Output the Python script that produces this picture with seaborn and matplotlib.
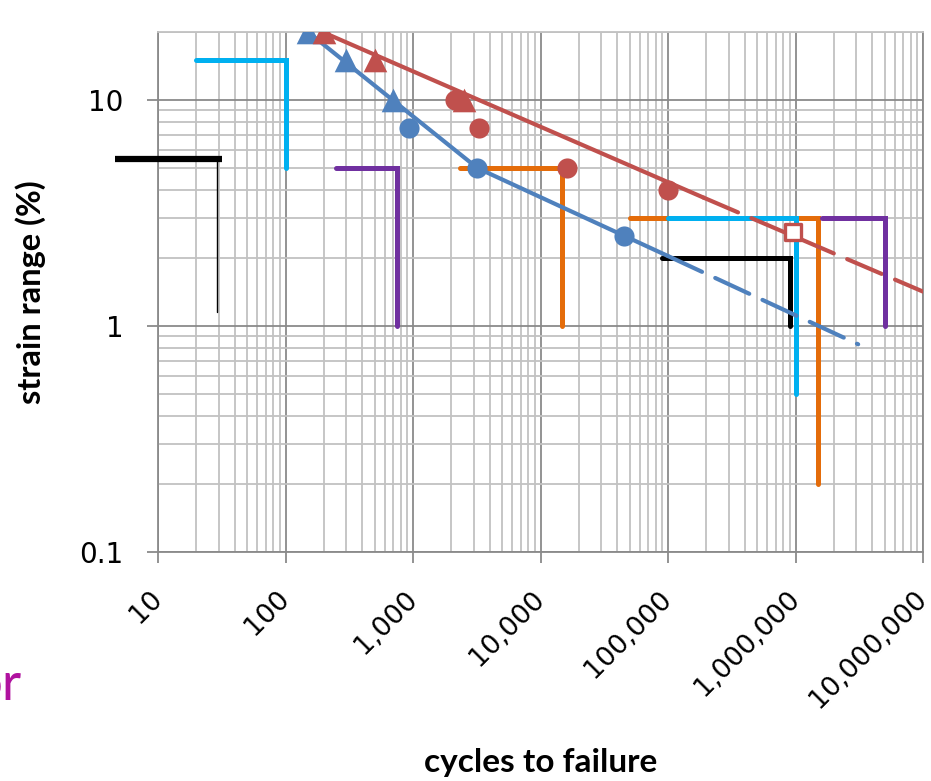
import matplotlib
matplotlib.use("Agg")
import matplotlib.pyplot as plt
import matplotlib.ticker as mticker
import numpy as np
import pandas as pd
import seaborn as sns

# ---- data -------------------------------------------------------------
# test results, blue family
blue_tri_n = [150, 300, 700]
blue_tri_s = [20, 15, 10]
blue_dot_n = [930, 3200, 45000]
blue_dot_s = [7.5, 5, 2.5]

# test results, red family
red_tri_n = [200, 500, 2500]
red_tri_s = [20, 15, 10]
red_dot_n = [2150, 3300, 16000, 100000]
red_dot_s = [10, 7.5, 5, 4]
red_open_n = [950000]
red_open_s = [2.6]

# fitted curves (solid part measured, dashed part extrapolated)
blue_fit_n = [150, 3200, 100000]
blue_fit_s = [20, 5, 2.04]
blue_ext_n = [100000, 3100000]
blue_ext_s = [2.04, 0.83]
red_fit_n = [195, 190000]
red_fit_s = [20, 3.7]
red_ext_n = [190000, 10000000]
red_ext_s = [3.7, 1.42]

# design envelopes (strain level held, then cycle limit)
black_a_n = [4.6, 32]
black_a_s = [5.5, 5.5]
black_b_n = [29, 29]
black_b_s = [5.5, 1.15]
cyan_a_n = [20, 100, 100]
cyan_a_s = [15, 15, 5]
purple_a_n = [250, 750, 750]
purple_a_s = [5, 5, 1]
orange_a_n = [2350, 14700, 14700]
orange_a_s = [5, 5, 1]
orange_b_n = [50000, 1500000, 1500000]
orange_b_s = [3, 3, 0.2]
cyan_b_n = [100000, 1000000, 1000000]
cyan_b_s = [3, 3, 0.5]
black_c_n = [90000, 906000, 906000]
black_c_s = [2, 2, 1]
purple_b_n = [1600000, 5000000, 5000000]
purple_b_s = [3, 3, 1]

x_ticks = [10, 100, 1000, 10000, 100000, 1000000, 10000000]
y_ticks = [0.1, 1, 10]
y_tick_labels = ["0.1", "1", "10"]

BLUE = "#4F81BD"
RED = "#C0504D"
CYAN = "#00B0F0"
PURPLE = "#7030A0"
ORANGE = "#E46C0A"
MAJOR = "#8a8a8a"
MINOR = "#c2c2c2"

sns.set_theme(style="white")
plt.rcParams["font.family"] = ["DejaVu Sans"]
plt.rcParams["text.color"] = "black"
plt.rcParams["axes.labelcolor"] = "black"

fig = plt.figure(figsize=(9.31, 7.81), dpi=100)
ax = fig.add_axes([158 / 931, 1 - 552 / 781, 765 / 931, 520 / 781])
ax.set_xscale("log")
ax.set_yscale("log")
ax.set_xlim(10, 1e7)
ax.set_ylim(0.1, 20)


def path(n, s, color, lw, z, ls="-", clip=True):
    df = pd.DataFrame({"n": n, "s": s})
    sns.lineplot(data=df, x="n", y="s", ax=ax, sort=False, estimator=None,
                 color=color, linewidth=lw, linestyle=ls, zorder=z,
                 solid_capstyle="round", dash_capstyle="round",
                 solid_joinstyle="miter")
    ln = ax.lines[-1]
    ln.set_clip_on(clip)
    if ls == "--":
        ln.set_dashes((9, 3.5))
    return ln


# envelopes
l = path(black_a_n, black_a_s, "black", 4.5, 3, clip=False)
l.set_solid_capstyle("butt")
path(black_b_n, black_b_s, "black", 1.0, 3)
path(cyan_a_n, cyan_a_s, CYAN, 3.6, 3)
path(purple_a_n, purple_a_s, PURPLE, 3.6, 3)
path(orange_a_n, orange_a_s, ORANGE, 3.6, 3)
path(orange_b_n, orange_b_s, ORANGE, 3.6, 3)
path(cyan_b_n, cyan_b_s, CYAN, 3.6, 3.1)
path(black_c_n, black_c_s, "black", 3.6, 3.2)

# fitted curves
path(blue_fit_n, blue_fit_s, BLUE, 3.0, 4)
path(blue_ext_n, blue_ext_s, BLUE, 3.0, 4, ls="--")
path(red_fit_n, red_fit_s, RED, 3.0, 4)
path(red_ext_n, red_ext_s, RED, 3.0, 4, ls="--")

# envelope drawn over the curves
path(purple_b_n, purple_b_s, PURPLE, 3.6, 5)

# markers
sns.scatterplot(x=blue_tri_n, y=blue_tri_s, ax=ax, marker="^", s=17 ** 2,
                color=BLUE, linewidth=0, zorder=6)
sns.scatterplot(x=blue_dot_n, y=blue_dot_s, ax=ax, marker="o", s=14.5 ** 2,
                color=BLUE, linewidth=0, zorder=6)
sns.scatterplot(x=red_tri_n, y=red_tri_s, ax=ax, marker="^", s=17 ** 2,
                color=RED, linewidth=0, zorder=6)
sns.scatterplot(x=red_dot_n, y=red_dot_s, ax=ax, marker="o", s=14.5 ** 2,
                color=RED, linewidth=0, zorder=6)
sns.scatterplot(x=red_open_n, y=red_open_s, ax=ax, marker="s", s=11.5 ** 2,
                facecolor="white", edgecolor=RED, linewidth=2.4, zorder=7)

# grid
ax.xaxis.set_major_locator(mticker.FixedLocator(x_ticks))
ax.yaxis.set_major_locator(mticker.FixedLocator(y_ticks))
ax.xaxis.set_minor_locator(mticker.LogLocator(base=10, subs=np.arange(2, 10)))
ax.yaxis.set_minor_locator(mticker.LogLocator(base=10, subs=np.arange(2, 10)))
ax.xaxis.set_minor_formatter(mticker.NullFormatter())
ax.yaxis.set_minor_formatter(mticker.NullFormatter())
ax.grid(which="minor", color=MINOR, linewidth=1.3, zorder=0)
ax.grid(which="major", color=MAJOR, linewidth=1.3, zorder=0.5)
ax.set_axisbelow(True)

ax.set_xticks(x_ticks)
ax.set_xticklabels([f"{v:,}" for v in x_ticks], rotation=45, ha="right",
                   va="center", rotation_mode="anchor", fontsize=19.5)
ax.set_yticks(y_ticks)
ax.set_yticklabels(y_tick_labels, fontsize=20)
ax.tick_params(axis="both", which="major", direction="out", length=8,
               width=1.3, color=MAJOR, labelcolor="black",
               left=True, bottom=True)
ax.tick_params(axis="y", which="major", pad=17)
ax.tick_params(axis="x", which="major", pad=23)
ax.tick_params(which="minor", length=0)

for side in ["left", "bottom", "right"]:
    ax.spines[side].set_color(MAJOR)
    ax.spines[side].set_linewidth(1.3)
ax.spines["top"].set_color(MINOR)
ax.spines["top"].set_linewidth(1.3)

ax.set_xlabel("cycles to failure", fontsize=24, fontweight="bold",
              family=["Lato", "DejaVu Sans"], color="black")
ax.set_ylabel("strain range (%)", fontsize=23.5, fontweight="bold",
              family=["Lato", "DejaVu Sans"], color="black")
ax.xaxis.label.set_va("center")
ax.yaxis.label.set_va("center")
ax.xaxis.set_label_coords(0.5, -0.404)
ax.yaxis.set_label_coords(-0.166, 0.5)

fig.text(22 / 931, 1 - 700 / 781, "or", color="#B0129F", fontsize=38,
         ha="right", va="baseline", family=["Lato", "DejaVu Sans"])

fig.savefig("out.png", dpi=100)
